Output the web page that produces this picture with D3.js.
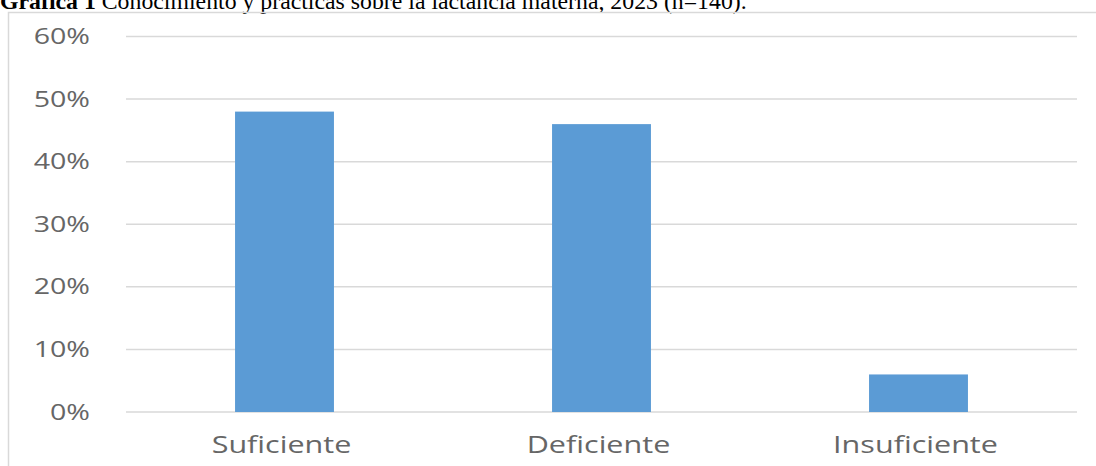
<!DOCTYPE html>
<html>
<head>
<meta charset="utf-8">
<script src="https://cdn.jsdelivr.net/npm/d3@7"></script>
<style>
  body { margin: 0; background: #fff; }
  svg { display: block; }
</style>
</head>
<body>
<svg id="chart" width="1096" height="466"></svg>
<script>
const categories = ["Suficiente", "Deficiente", "Insuficiente"];
const values = [0.48, 0.46, 0.06];
const yTicks = [0, 0.1, 0.2, 0.3, 0.4, 0.5, 0.6];

const svg = d3.select("#chart");
const stretch = 1.3; // picture is stretched sideways

// Title (cut off at the top in the reference)
const title = svg.append("text")
  .attr("transform", "translate(0,9) scale(1.035,1)")
  .attr("font-family", "Liberation Serif, Times New Roman, serif")
  .attr("font-size", 23)
  .attr("fill", "#000");
title.append("tspan").attr("font-weight", "bold").text("Gráfica 1");
title.append("tspan").text(" Conocimiento y prácticas sobre la lactancia materna, 2023 (n=140).");

// Chart area border
svg.append("rect")
  .attr("x", 8.5).attr("y", 12.5)
  .attr("width", 1100).attr("height", 470)
  .attr("fill", "none")
  .attr("stroke", "#d9d9d9")
  .attr("stroke-width", 1.5);

const y = d3.scaleLinear().domain([0, 0.6]).range([412, 36.5]);
const x = d3.scaleBand().domain(categories).range([126, 1077])
  .paddingInner(0.688).paddingOuter(0.344);

// Gridlines
svg.append("g")
  .selectAll("line")
  .data(yTicks)
  .join("line")
  .attr("x1", 126).attr("x2", 1077)
  .attr("y1", d => y(d)).attr("y2", d => y(d))
  .attr("stroke", "#d9d9d9")
  .attr("stroke-width", 1.5);

// Y tick labels
svg.append("g")
  .selectAll("text")
  .data(yTicks)
  .join("text")
  .attr("transform", d => `translate(90,${y(d) + 7.5}) scale(${stretch},1)`)
  .attr("text-anchor", "end")
  .attr("font-family", "Open Sans, sans-serif")
  .attr("font-size", 22)
  .attr("fill", "#666")
  .text(d3.format(".0%"));

// Bars
svg.append("g")
  .selectAll("rect")
  .data(values)
  .join("rect")
  .attr("x", (d, i) => x(categories[i]))
  .attr("y", d => y(d))
  .attr("width", x.bandwidth())
  .attr("height", d => y(0) - y(d))
  .attr("fill", "#5b9bd5");

// X labels
svg.append("g")
  .selectAll("text")
  .data(categories)
  .join("text")
  .attr("transform", d => `translate(${x(d) + x.bandwidth() / 2 - 3},453) scale(${stretch},1)`)
  .attr("text-anchor", "middle")
  .attr("font-family", "Open Sans, sans-serif")
  .attr("font-size", 23.5)
  .attr("fill", "#666")
  .text(d => d);
</script>
</body>
</html>
